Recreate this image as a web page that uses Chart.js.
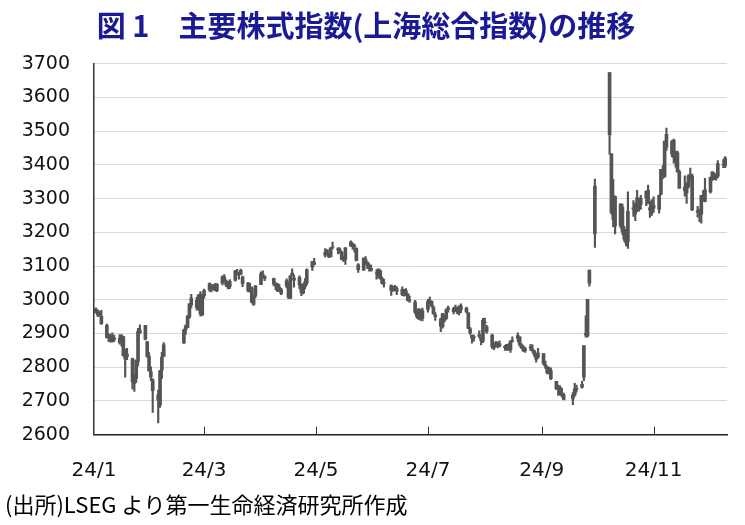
<!DOCTYPE html>
<html>
<head>
<meta charset="utf-8">
<script src="https://cdn.jsdelivr.net/npm/chart.js"></script>
<style>
  body { margin: 0; background: #fff; }
  canvas { display: block; }
</style>
</head>
<body>
<canvas id="chart" width="745" height="525"></canvas>
<script>
// 上海総合指数 日足 (2024/1/2 - 2024/12/10)
const dates = [
  '1/2','1/3','1/4','1/5','1/8','1/9','1/10','1/11','1/12','1/15','1/16','1/17','1/18','1/19','1/22','1/23','1/24','1/25','1/26','1/29','1/30','1/31',
  '2/1','2/2','2/5','2/6','2/7','2/8','2/19','2/20','2/21','2/22','2/23','2/26','2/27','2/28','2/29',
  '3/1','3/4','3/5','3/6','3/7','3/8','3/11','3/12','3/13','3/14','3/15','3/18','3/19','3/20','3/21','3/22','3/25','3/26','3/27','3/28','3/29',
  '4/1','4/2','4/3','4/8','4/9','4/10','4/11','4/12','4/15','4/16','4/17','4/18','4/19','4/22','4/23','4/24','4/25','4/26','4/29','4/30',
  '5/6','5/7','5/8','5/9','5/10','5/13','5/14','5/15','5/16','5/17','5/20','5/21','5/22','5/23','5/24','5/27','5/28','5/29','5/30','5/31',
  '6/3','6/4','6/5','6/6','6/7','6/11','6/12','6/13','6/14','6/17','6/18','6/19','6/20','6/21','6/24','6/25','6/26','6/27','6/28',
  '7/1','7/2','7/3','7/4','7/5','7/8','7/9','7/10','7/11','7/12','7/15','7/16','7/17','7/18','7/19','7/22','7/23','7/24','7/25','7/26','7/29','7/30','7/31',
  '8/1','8/2','8/5','8/6','8/7','8/8','8/9','8/12','8/13','8/14','8/15','8/16','8/19','8/20','8/21','8/22','8/23','8/26','8/27','8/28','8/29','8/30',
  '9/2','9/3','9/4','9/5','9/6','9/9','9/10','9/11','9/12','9/13','9/18','9/19','9/20','9/23','9/24','9/25','9/26','9/27','9/30',
  '10/8','10/9','10/10','10/11','10/14','10/15','10/16','10/17','10/18','10/21','10/22','10/23','10/24','10/25','10/28','10/29','10/30','10/31',
  '11/1','11/4','11/5','11/6','11/7','11/8','11/11','11/12','11/13','11/14','11/15','11/18','11/19','11/20','11/21','11/22','11/25','11/26','11/27','11/28','11/29',
  '12/2','12/3','12/4','12/5','12/6','12/9','12/10'
];
const opens = [
  2972,2956,2962,2951,2924,2890,2892,2876,2886,2873,2886,2891,2824,2839,2825,2752,2767,2817,2902,2924,2875,2832,
  2787,2762,2718,2688,2791,2832,2873,2911,2917,2948,2985,2998,2975,3017,2956,
  3012,3029,3044,3036,3036,3027,3049,3068,3056,3039,3039,3058,3079,3080,3087,3067,3050,3027,3035,2986,3013,
  3045,3076,3063,3063,3046,3047,3037,3030,3040,3051,3004,3079,3058,3066,3045,3020,3039,3050,3097,3111,
  3132,3141,3136,3128,3157,3151,3149,3141,3118,3120,3160,3163,3158,3152,3104,3088,3121,3102,3099,3093,
  3080,3072,3086,3063,3049,3042,3027,3036,3025,3030,3014,3027,3016,2998,2993,2962,2949,2970,2945,
  2971,2992,2995,2977,2955,2943,2920,2953,2945,2976,2965,2970,2974,2963,2971,2975,2961,2914,2895,2887,2897,2887,2877,
  2934,2920,2895,2858,2868,2866,2870,2862,2856,2866,2852,2877,2885,2890,2866,2858,2850,2861,2852,2848,2837,2830,
  2840,2808,2799,2785,2790,2758,2737,2740,2722,2718,2706,2717,2735,2741,2770,2900,2893,3049,3195,
  3674,3433,3238,3307,3220,3275,3180,3204,3172,3273,3255,3273,3298,3283,3302,3325,3273,3257,
  3280,3268,3313,3381,3366,3491,3433,3474,3409,3436,3380,3334,3317,3336,3361,3367,3260,3265,3254,3302,3292,
  3320,3359,3373,3360,3367,3401,3420
];
const highs = [
  2976,2970,2966,2969,2928,2899,2898,2902,2895,2897,2897,2891,2853,2856,2827,2778,2821,2915,2926,2924,2877,2843,
  2801,2766,2732,2791,2844,2873,2913,2926,2954,2989,3016,3007,3015,3024,3015,
  3032,3050,3044,3045,3049,3048,3071,3075,3059,3053,3060,3087,3090,3082,3091,3070,3051,3049,3038,3014,3042,
  3083,3086,3072,3064,3051,3048,3045,3034,3062,3052,3072,3092,3074,3071,3047,3047,3063,3092,3114,3123,
  3152,3148,3139,3155,3171,3155,3154,3144,3129,3155,3175,3169,3165,3154,3107,3124,3128,3113,3107,3103,
  3089,3092,3089,3068,3061,3044,3040,3043,3039,3038,3031,3033,3019,3011,2998,2968,2973,2971,2975,
  3001,3008,2997,2983,2962,2946,2960,2954,2973,2981,2978,2984,2979,2983,2988,2978,2962,2918,2895,2895,2908,2890,2945,
  2946,2924,2898,2872,2877,2875,2878,2865,2868,2870,2880,2890,2902,2890,2870,2864,2860,2868,2866,2851,2842,2856,
  2841,2818,2803,2800,2798,2758,2747,2745,2737,2723,2725,2752,2747,2758,2864,2952,3001,3088,3358,
  3674,3433,3357,3308,3285,3284,3218,3210,3320,3294,3287,3325,3302,3310,3323,3340,3292,3297,
  3305,3311,3387,3398,3471,3509,3473,3477,3440,3441,3385,3368,3346,3371,3391,3373,3277,3269,3310,3324,3360,
  3363,3380,3377,3373,3413,3416,3425
];
const lows = [
  2961,2950,2951,2927,2886,2876,2874,2874,2876,2868,2862,2833,2770,2822,2735,2728,2755,2804,2900,2881,2830,2788,
  2760,2666,2635,2681,2767,2831,2870,2897,2917,2945,2976,2969,2969,2951,2953,
  3005,3025,3023,3030,3026,3024,3044,3052,3039,3032,3033,3055,3074,3061,3074,3039,3023,3023,2991,2983,3006,
  3045,3068,3057,3041,3030,3024,3024,3015,3035,3003,3004,3070,3037,3033,3012,3017,3032,3044,3087,3103,
  3126,3134,3125,3126,3151,3136,3138,3118,3113,3105,3158,3149,3141,3115,3081,3088,3106,3092,3085,3085,
  3061,3064,3061,3046,3037,3013,3025,3027,3015,3012,3011,3013,2996,2992,2958,2945,2941,2939,2937,
  2963,2988,2978,2957,2939,2905,2916,2934,2942,2963,2958,2966,2958,2955,2962,2961,2915,2897,2871,2877,2887,2866,2873,
  2923,2900,2856,2852,2860,2857,2860,2850,2850,2850,2844,2874,2876,2862,2855,2846,2844,2849,2844,2831,2815,2826,
  2807,2796,2780,2780,2763,2733,2716,2717,2711,2703,2689,2714,2726,2738,2760,2889,2889,3040,3155,
  3432,3254,3216,3195,3213,3193,3173,3160,3152,3247,3235,3261,3263,3268,3279,3285,3244,3250,
  3260,3257,3311,3359,3363,3443,3424,3405,3393,3378,3330,3307,3286,3331,3353,3264,3245,3232,3227,3293,3290,
  3316,3353,3356,3355,3362,3392,3392
];
const closes = [
  2962,2967,2954,2929,2888,2893,2878,2887,2882,2886,2894,2834,2846,2832,2756,2771,2821,2906,2910,2883,2831,2789,
  2771,2730,2702,2789,2830,2866,2911,2923,2951,2988,3005,2977,3015,2958,3015,
  3027,3048,3039,3040,3027,3046,3068,3056,3044,3038,3055,3085,3080,3079,3077,3048,3026,3031,2993,3011,3041,
  3077,3075,3069,3047,3049,3027,3034,3019,3057,3007,3071,3074,3065,3045,3022,3045,3053,3089,3113,3105,
  3141,3148,3128,3154,3155,3148,3146,3120,3122,3154,3171,3158,3159,3116,3089,3124,3110,3111,3092,3087,
  3078,3091,3065,3049,3051,3028,3037,3029,3033,3016,3030,3018,2998,2999,2963,2950,2973,2946,2967,
  2995,2997,2982,2958,2950,2922,2959,2939,2970,2971,2974,2976,2963,2977,2982,2964,2915,2902,2886,2891,2892,2879,2939,
  2932,2905,2861,2867,2870,2870,2862,2858,2868,2851,2877,2879,2894,2867,2857,2849,2854,2856,2849,2837,2823,2842,
  2811,2803,2784,2788,2766,2736,2744,2722,2717,2704,2717,2736,2737,2749,2863,2896,3001,3088,3337,
  3490,3259,3302,3218,3284,3201,3203,3169,3262,3268,3286,3303,3280,3300,3322,3286,3266,3280,
  3272,3310,3387,3384,3471,3452,3470,3422,3439,3380,3331,3324,3346,3368,3370,3267,3264,3260,3310,3296,3326,
  3364,3379,3365,3369,3404,3402,3398
];
const tickDates = ['1/1', '3/1', '5/1', '7/1', '9/1', '11/1'];
const tickLabels = ['24/1', '24/3', '24/5', '24/7', '24/9', '24/11'];
const yMin = 2600, yMax = 3700, yStep = 100;

// 日付 → 2024/1/1 からの日数
function dayOf(s) {
  const [m, d] = s.split('/').map(Number);
  return (Date.UTC(2024, m - 1, d) - Date.UTC(2024, 0, 1)) / 86400000;
}
const tickDays = tickDates.map(dayOf);

const wicks = dates.map((d, i) => ({ x: dayOf(d), y: [lows[i], highs[i]] }));
const bodies = dates.map((d, i) => ({
  x: dayOf(d),
  y: [Math.min(opens[i], closes[i]), Math.max(opens[i], closes[i])]
}));

// 軸の内側に向いた目盛り
const innerTicks = {
  id: 'innerTicks',
  afterDatasetsDraw(chart) {
    const sx = chart.scales.x;
    const b = chart.chartArea.bottom;
    const ctx = chart.ctx;
    ctx.save();
    ctx.strokeStyle = '#333';
    ctx.lineWidth = 1;
    tickDays.slice(1).forEach(d => {
      const px = Math.round(sx.getPixelForValue(d)) + 0.5;
      ctx.beginPath();
      ctx.moveTo(px, b);
      ctx.lineTo(px, b - 8);
      ctx.stroke();
    });
    ctx.restore();
  }
};

new Chart(document.getElementById('chart'), {
  type: 'bar',
  data: {
    datasets: [{
      label: '高値・安値',
      data: wicks,
      backgroundColor: '#555555',
      barThickness: 1.5,
      grouped: false
    }, {
      label: '始値・終値',
      data: bodies,
      backgroundColor: '#555555',
      barThickness: 3,
      grouped: false
    }]
  },
  options: {
    responsive: false,
    animation: false,
    layout: { padding: { left: 5, right: 18, top: 0, bottom: 0 } },
    plugins: {
      legend: { display: false },
      tooltip: { enabled: false },
      title: {
        display: true,
        text: '図 1　主要株式指数(上海総合指数)の推移',
        color: '#1a1a96',
        font: { family: '"Noto Sans CJK JP", sans-serif', size: 29, weight: 'bold' },
        padding: { top: 9, bottom: 20 }
      },
      subtitle: {
        display: true,
        position: 'bottom',
        align: 'start',
        text: '(出所)LSEG より第一生命経済研究所作成',
        color: '#000',
        font: { family: '"Noto Sans CJK JP", sans-serif', size: 22 },
        padding: { top: 0, bottom: 7 }
      }
    },
    scales: {
      x: {
        type: 'linear',
        min: 0,
        max: 345,
        offset: false,
        grid: { display: false },
        border: { display: true, color: '#222', width: 1.5 },
        afterBuildTicks: s => { s.ticks = tickDays.map(v => ({ value: v })); },
        afterFit: s => { s.height = 57; },
        ticks: {
          autoSkip: false,
          maxRotation: 0,
          padding: 16,
          color: '#111',
          font: { family: '"DejaVu Sans", sans-serif', size: 20 },
          callback: (v, i) => tickLabels[i]
        }
      },
      y: {
        min: yMin,
        max: yMax,
        afterFit: s => { s.width = 89; },
        grid: { color: '#d9d9d9', lineWidth: 1, drawTicks: false },
        border: { display: true, color: '#333', width: 1.5 },
        ticks: {
          stepSize: yStep,
          padding: 24,
          color: '#111',
          font: { family: '"DejaVu Sans", sans-serif', size: 19 },
          callback: v => String(v)
        }
      }
    }
  },
  plugins: [innerTicks]
});
</script>
</body>
</html>
